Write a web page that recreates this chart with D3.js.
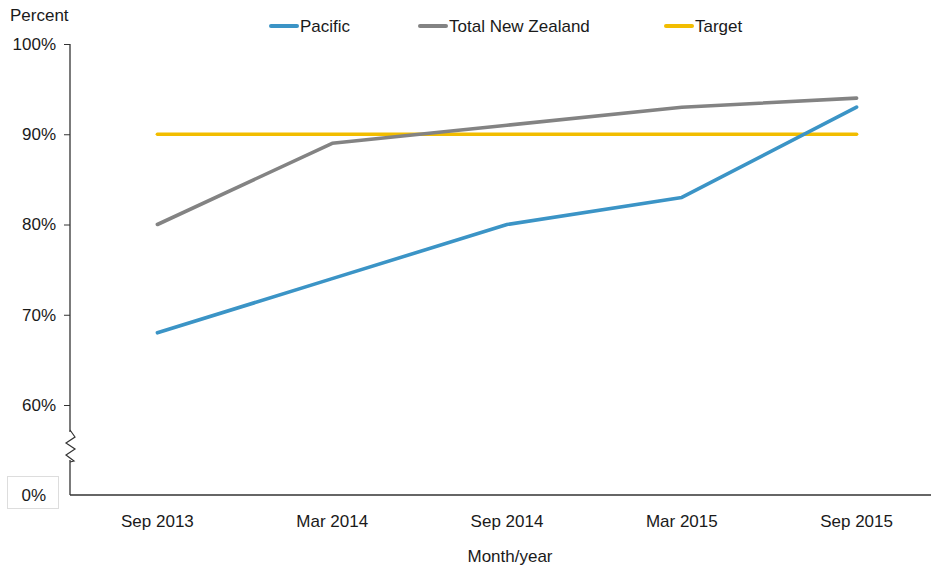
<!DOCTYPE html>
<html>
<head>
<meta charset="utf-8">
<script src="https://cdn.jsdelivr.net/npm/d3@7"></script>
<style>
  body { margin: 0; background: #fff; }
  text { font-family: "Liberation Sans", Arial, sans-serif; fill: #1a1a1a; }
</style>
</head>
<body>
<div id="container"></div>
<script>
/** DATA */
const periods = ["Sep 2013", "Mar 2014", "Sep 2014", "Mar 2015", "Sep 2015"];
const pacific = [68, 74, 80, 83, 93];
const totalNZ = [80, 89, 91, 93, 94];
const target = [90, 90, 90, 90, 90];
const yTicks = [60, 70, 80, 90, 100];

const series = [
  { name: "Pacific", values: pacific, color: "#3b94c6" },
  { name: "Total New Zealand", values: totalNZ, color: "#838383" },
  { name: "Target", values: target, color: "#f2bd00" }
];

/** LAYOUT */
const width = 931, height = 568;
const axisX = 70, axisBottom = 495;

const svg = d3.select("#container")
  .append("svg")
  .attr("width", width)
  .attr("height", height);

// point scale, half a step of padding on each side
const x = d3.scalePoint()
  .domain(periods)
  .range([axisX, 944])
  .padding(0.5);

// broken y axis: 0 at the bottom, then 60-100
const y = d3.scaleLinear()
  .domain([0, 60, 100])
  .range([axisBottom, 405, 44]);

// y axis
svg.append("g")
  .attr("transform", `translate(${axisX},0)`)
  .call(d3.axisLeft(y).tickValues(yTicks).tickSize(6).tickFormat(d => d + "%"))
  .call(g => g.select(".domain").remove())
  .call(g => g.selectAll("line").attr("stroke", "#333"))
  .call(g => g.selectAll("text")
    .attr("x", -14)
    .style("font-size", "17px")
    .style("font-family", "Liberation Sans, Arial, sans-serif")
    .attr("fill", "#1a1a1a"));

svg.append("line")
  .attr("x1", axisX).attr("x2", axisX)
  .attr("y1", y(100)).attr("y2", axisBottom)
  .attr("stroke", "#333").attr("stroke-width", 1.3);

// axis break zigzag
svg.append("rect")
  .attr("x", axisX - 4).attr("y", 432).attr("width", 8).attr("height", 28)
  .attr("fill", "#fff");
svg.append("polyline")
  .attr("points", "70,430 75,437 66,443 75,449 66,455 74,461 70,462")
  .attr("fill", "none").attr("stroke", "#333").attr("stroke-width", 1.2);

// 0% box
svg.append("rect")
  .attr("x", 7.5).attr("y", 476.5).attr("width", 51).attr("height", 32)
  .attr("fill", "#fff").attr("stroke", "#ddd");
svg.append("text")
  .attr("x", 46).attr("y", y(0))
  .attr("text-anchor", "end")
  .attr("dy", "0.35em")
  .style("font-size", "17px")
  .text("0%");

// x axis
svg.append("line")
  .attr("x1", axisX).attr("x2", width)
  .attr("y1", axisBottom).attr("y2", axisBottom)
  .attr("stroke", "#333").attr("stroke-width", 1.3);

svg.selectAll(".xlab")
  .data(periods)
  .join("text")
  .attr("class", "xlab")
  .attr("x", d => x(d))
  .attr("y", 527)
  .attr("text-anchor", "middle")
  .style("font-size", "17px")
  .text(d => d);

svg.append("text")
  .attr("x", 510).attr("y", 562)
  .attr("text-anchor", "middle")
  .style("font-size", "17px")
  .text("Month/year");

svg.append("text")
  .attr("x", 10).attr("y", 21)
  .style("font-size", "17px")
  .text("Percent");

// lines
const line = d3.line()
  .x((d, i) => x(periods[i]))
  .y(d => y(d));

svg.selectAll(".series")
  .data(series.slice().reverse())
  .join("path")
  .attr("class", "series")
  .attr("d", d => line(d.values))
  .attr("fill", "none")
  .attr("stroke", d => d.color)
  .attr("stroke-width", 3.6)
  .attr("stroke-linejoin", "round")
  .attr("stroke-linecap", "round");

// legend
const legendX = [271, 420, 666];
const legend = svg.selectAll(".legend")
  .data(series)
  .join("g")
  .attr("class", "legend")
  .attr("transform", (d, i) => `translate(${legendX[i]},26)`);

legend.append("line")
  .attr("x1", 0).attr("x2", 26)
  .attr("stroke", d => d.color)
  .attr("stroke-width", 4)
  .attr("stroke-linecap", "round");

legend.append("text")
  .attr("x", 29)
  .attr("dy", "0.35em")
  .style("font-size", "17px")
  .text(d => d.name);
</script>
</body>
</html>
